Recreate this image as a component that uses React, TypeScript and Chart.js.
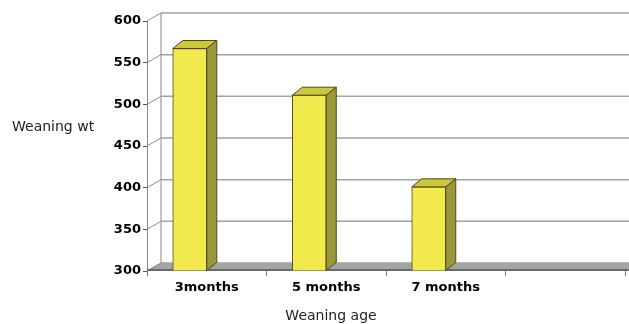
import React, { useEffect, useRef } from 'react';
import { Chart, registerables } from 'chart.js';

Chart.register(...registerables);

const categories = ['3months', '5 months', '7 months', ''];
const weaningWt = [567, 511, 401, null];
const spacerSeries = [null, null, null, null];
const yMin = 300;
const yMax = 600;
const yStep = 50;

const WALL_DX = 14;
const WALL_DY = -8;
const BAR_DX = 10;
const BAR_DY = -8;

const FONT = '"DejaVu Sans", sans-serif';

const threeD = {
  id: 'threeD',
  beforeDatasetsDraw(chart: any) {
    const { ctx, chartArea, scales } = chart;
    const { left, right, top, bottom } = chartArea;
    const y = scales.y;
    ctx.save();
    // back wall grid lines and connectors
    ctx.strokeStyle = '#a2a2a2';
    ctx.lineWidth = 1.5;
    y.ticks.forEach((t: any) => {
      const py = y.getPixelForValue(t.value);
      ctx.beginPath();
      ctx.moveTo(left + WALL_DX, py + WALL_DY);
      ctx.lineTo(right + WALL_DX, py + WALL_DY);
      ctx.stroke();
    });
    ctx.lineWidth = 1;
    ctx.strokeStyle = '#8c8c8c';
    y.ticks.forEach((t: any) => {
      const py = y.getPixelForValue(t.value);
      ctx.beginPath();
      ctx.moveTo(left, py);
      ctx.lineTo(left + WALL_DX, py + WALL_DY);
      ctx.stroke();
    });
    // back wall left edge
    ctx.strokeStyle = '#9a9a9a';
    ctx.lineWidth = 1.2;
    ctx.beginPath();
    ctx.moveTo(left + WALL_DX, top + WALL_DY);
    ctx.lineTo(left + WALL_DX, bottom + WALL_DY);
    ctx.stroke();
    // floor
    ctx.fillStyle = '#a4a4a4';
    ctx.beginPath();
    ctx.moveTo(left, bottom);
    ctx.lineTo(right + WALL_DX + 20, bottom);
    ctx.lineTo(right + WALL_DX + 20, bottom + WALL_DY);
    ctx.lineTo(left + WALL_DX, bottom + WALL_DY);
    ctx.closePath();
    ctx.fill();
    ctx.strokeStyle = '#8a8a8a';
    ctx.lineWidth = 1;
    ctx.beginPath();
    ctx.moveTo(left, bottom);
    ctx.lineTo(left + WALL_DX, bottom + WALL_DY);
    ctx.stroke();
    ctx.strokeStyle = '#6a6a6a';
    ctx.lineWidth = 2;
    ctx.beginPath();
    ctx.moveTo(left, bottom - 1);
    ctx.lineTo(right + 20, bottom - 1);
    ctx.stroke();
    ctx.restore();
  },
  afterDatasetsDraw(chart: any) {
    const { ctx } = chart;
    const meta = chart.getDatasetMeta(0);
    ctx.save();
    ctx.lineWidth = 1;
    ctx.strokeStyle = '#4a4a20';
    ctx.lineJoin = 'round';
    meta.data.forEach((el: any, i: number) => {
      if (weaningWt[i] === null || weaningWt[i] === undefined) return;
      const { x, y, base, width } = el.getProps(['x', 'y', 'base', 'width'], true);
      const l = x - width / 2;
      const r = x + width / 2;
      // top face
      ctx.fillStyle = '#cdc73c';
      ctx.beginPath();
      ctx.moveTo(l, y);
      ctx.lineTo(l + BAR_DX, y + BAR_DY);
      ctx.lineTo(r + BAR_DX, y + BAR_DY);
      ctx.lineTo(r, y);
      ctx.closePath();
      ctx.fill();
      ctx.stroke();
      // side face
      ctx.fillStyle = '#9b983a';
      ctx.beginPath();
      ctx.moveTo(r, y);
      ctx.lineTo(r + BAR_DX, y + BAR_DY);
      ctx.lineTo(r + BAR_DX, base + BAR_DY);
      ctx.lineTo(r, base);
      ctx.closePath();
      ctx.fill();
      ctx.stroke();
    });
    ctx.restore();
  },
  afterDraw(chart: any) {
    const { ctx } = chart;
    ctx.save();
    ctx.fillStyle = '#222';
    ctx.font = `14px ${FONT}`;
    ctx.textBaseline = 'alphabetic';
    ctx.textAlign = 'left';
    ctx.fillText('Weaning wt', 12, 131);
    ctx.textAlign = 'center';
    ctx.fillText('Weaning age', 331, 320);
    ctx.restore();
  },
};

export default function App() {
  const ref = useRef<HTMLCanvasElement | null>(null);
  useEffect(() => {
    if (!ref.current) return;
    const chart = new Chart(ref.current, {
      type: 'bar',
      data: {
        labels: categories,
        datasets: [
          {
            label: 'Weaning wt',
            data: weaningWt,
            base: yMin,
            backgroundColor: '#f2e94c',
            borderColor: '#4a4a20',
            borderWidth: 1,
            barThickness: 34,
          } as any,
          {
            label: '',
            data: spacerSeries,
            backgroundColor: 'rgba(0,0,0,0)',
            barThickness: 34,
          } as any,
        ],
      },
      options: {
        responsive: false,
        animation: false,
        layout: { padding: { top: 21, right: 4, left: 0, bottom: 0 } },
        plugins: { legend: { display: false }, tooltip: { enabled: false }, title: { display: false } },
        scales: {
          x: {
            grid: { display: true, drawOnChartArea: false, drawTicks: true, tickLength: 5, color: '#777', offset: true },
            border: { display: false },
            ticks: { color: '#000', font: { family: FONT, size: 13, weight: 'bold' }, padding: 4, maxRotation: 0, autoSkip: false },
            afterFit: (s: any) => { s.height = 53; },
          },
          y: {
            min: yMin,
            max: yMax,
            grid: { display: true, drawOnChartArea: false, drawTicks: true, tickLength: 4, color: '#555' },
            border: { display: true, color: '#8a8a8a', width: 1 },
            ticks: { stepSize: yStep, color: '#000', font: { family: FONT, size: 13, weight: 'bold' }, padding: 2 },
            afterFit: (s: any) => { s.width = 147; },
          },
        },
      } as any,
      plugins: [threeD],
    });
    return () => chart.destroy();
  }, []);
  return (
    <div style={{ position: 'fixed', left: 0, top: 0, width: 629, height: 324, background: '#fff' }}>
      <canvas ref={ref} width={629} height={324} style={{ display: 'block' }} />
    </div>
  );
}
